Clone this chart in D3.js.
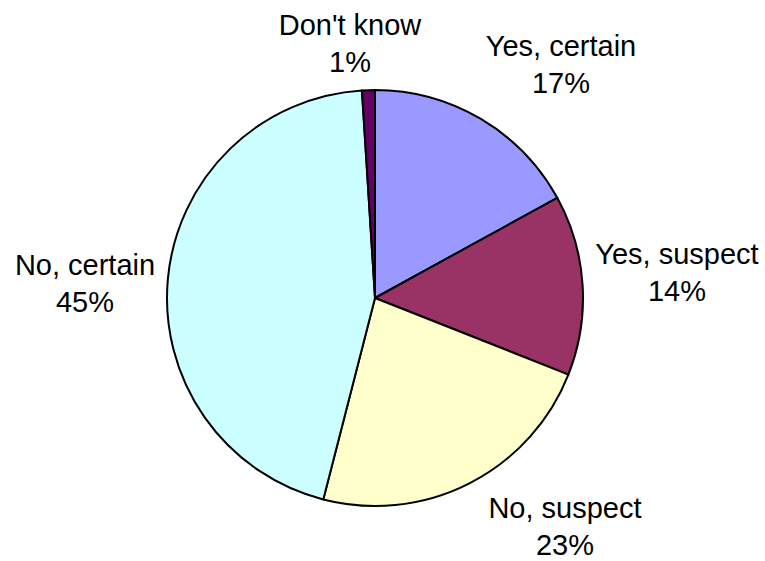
<!DOCTYPE html>
<html>
<head>
<meta charset="utf-8">
<script src="https://cdn.jsdelivr.net/npm/d3@7"></script>
<style>
  html, body { margin: 0; padding: 0; background: #fff; }
  svg { display: block; }
  text { font-family: "Liberation Sans", Arial, sans-serif; font-size: 29px; fill: #000; }
</style>
</head>
<body>
<svg id="chart" width="765" height="561"></svg>
<script>
// Survey answers, in clockwise order from twelve o'clock
const categories = ["Yes, certain", "Yes, suspect", "No, suspect", "No, certain", "Don't know"];
const percents = [17, 14, 23, 45, 1];
const colors = ["#9999FF", "#993366", "#FFFFCC", "#CCFFFF", "#660066"];
// Label anchor (centre x, first baseline y) for each slice's text block
const labelX = [561, 677, 565, 85, 350];
const labelY = [56, 264, 518, 275, 35];

const svg = d3.select("#chart");
const cx = 375, cy = 298, radius = 208;

const pie = d3.pie().sort(null).value(d => d)(percents);
const arc = d3.arc().innerRadius(0).outerRadius(radius);

const g = svg.append("g").attr("transform", `translate(${cx},${cy})`);
g.selectAll("path")
  .data(pie)
  .join("path")
  .attr("d", arc)
  .attr("fill", (d, i) => colors[i])
  .attr("stroke", "#000")
  .attr("stroke-width", 2)
  .attr("stroke-linejoin", "round");

const labels = svg.selectAll("text.lbl")
  .data(categories)
  .join("text")
  .attr("class", "lbl")
  .attr("text-anchor", "middle")
  .attr("x", (d, i) => labelX[i])
  .attr("y", (d, i) => labelY[i]);
labels.append("tspan").attr("x", (d, i) => labelX[i]).text(d => d);
labels.append("tspan")
  .attr("x", (d, i) => labelX[i])
  .attr("dy", 37)
  .text((d, i) => percents[i] + "%");
</script>
</body>
</html>
